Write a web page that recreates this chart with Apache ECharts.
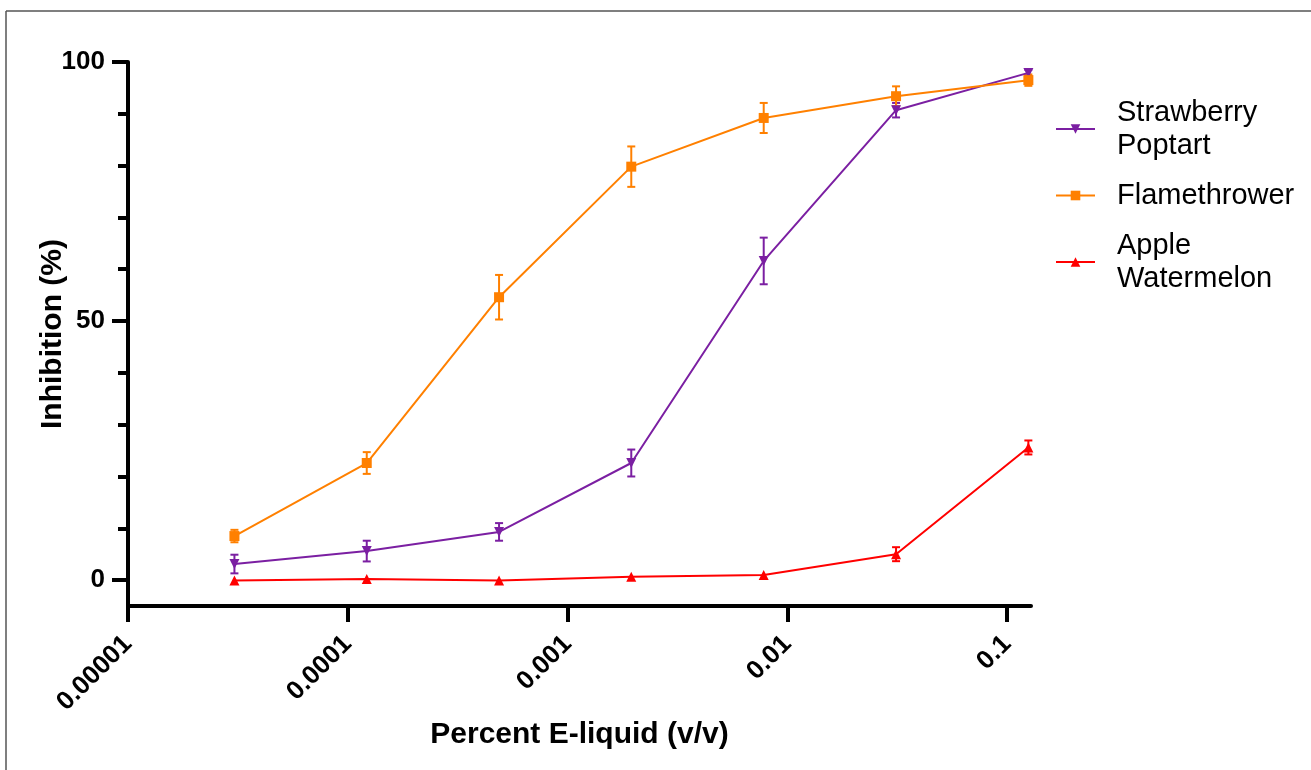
<!DOCTYPE html>
<html>
<head>
<meta charset="utf-8">
<title>Inhibition vs Percent E-liquid</title>
<script src="https://cdn.jsdelivr.net/npm/echarts@6/dist/echarts.min.js"></script>
<style>
    html, body { margin: 0; padding: 0; background: #fff; }
    #chart { width: 1311px; height: 770px; }
</style>
</head>
<body>
<div id="chart"></div>
<script>
// 浓度 (4倍稀释)
let concentrations = [0.0000305, 0.000122, 0.000488, 0.00195, 0.00781, 0.03125, 0.125];

// 各口味均值与误差
let strawberryMean = [3.1, 5.6, 9.3, 22.6, 61.6, 90.7, 97.9];
let strawberryErr  = [1.8, 2.0, 1.7, 2.6, 4.5, 1.4, 0.6];
let flameMean = [8.5, 22.6, 54.6, 79.8, 89.2, 93.4, 96.5];
let flameErr  = [1.2, 2.1, 4.3, 3.9, 2.9, 1.9, 1.1];
let appleMean = [-0.1, 0.2, -0.1, 0.65, 1.0, 5.0, 25.6];
let appleErr  = [0, 0, 0, 0, 0, 1.35, 1.35];

// 坐标轴刻度
let xTicks = [0.00001, 0.0001, 0.001, 0.01, 0.1];
let xTickLabels = ['0.00001', '0.0001', '0.001', '0.01', '0.1'];
let yMajorTicks = [0, 50, 100];
let yMinorTicks = [10, 20, 30, 40, 60, 70, 80, 90];

let font = 'Liberation Sans, Arial, sans-serif';

let pairs = (mean) => concentrations.map((x, i) => [x, mean[i]]);
let triples = (mean, err) => concentrations.map((x, i) => [x, mean[i], err[i]]);

let xLabel = v => {
    let i = xTicks.findIndex(t => Math.abs(Math.log10(t) - Math.log10(v)) < 1e-6);
    return i >= 0 ? xTickLabels[i] : '';
};

// 误差线
let errorBar = (name, color, mean, err) => ({
    type: 'custom',
    name: name + '-err',
    z: 1,
    silent: true,
    data: triples(mean, err),
    encode: {x: 0, y: 1},
    renderItem: (params, api) => {
        let x = api.value(0), m = api.value(1), e = api.value(2);
        if (!e) return null;
        let top = api.coord([x, m + e]);
        let bot = api.coord([x, m - e]);
        let w = 4;
        let style = {stroke: color, lineWidth: 2};
        return {
            type: 'group',
            children: [
                {type: 'line', shape: {x1: top[0], y1: top[1], x2: bot[0], y2: bot[1]}, style: style},
                {type: 'line', shape: {x1: top[0] - w, y1: top[1], x2: top[0] + w, y2: top[1]}, style: style},
                {type: 'line', shape: {x1: bot[0] - w, y1: bot[1], x2: bot[0] + w, y2: bot[1]}, style: style}
            ]
        };
    }
});

let lineSeries = (name, color, mean, symbol, rotate) => ({
    type: 'line',
    name: name,
    z: 3,
    data: pairs(mean),
    symbol: symbol,
    symbolSize: 10,
    symbolRotate: rotate,
    showAllSymbol: true,
    lineStyle: {color: color, width: 2},
    itemStyle: {color: color},
    emphasis: {disabled: true}
});

let purple = '#7B1FA2', orange = '#FF8000', red = '#FF0000';

let axisText = {color: '#000', fontFamily: font, fontWeight: 'bold', fontSize: 26};
let nameText = {color: '#000', fontFamily: font, fontWeight: 'bold', fontSize: 30};

let option = {
    animation: false,
    backgroundColor: '#fff',
    grid: {left: 128, right: 280, top: 62, bottom: 164},
    legend: {
        orient: 'vertical',
        left: 1055,
        top: 96,
        padding: 0,
        itemGap: 17,
        itemWidth: 39,
        itemHeight: 12,
        data: ['Strawberry\nPoptart', 'Flamethrower', 'Apple\nWatermelon'],
        textStyle: {color: '#000', fontFamily: font, fontSize: 29, lineHeight: 33, padding: [0, 0, 0, 17]}
    },
    xAxis: {
        type: 'log',
        logBase: 10,
        min: 0.00001,
        max: 0.1285,
        name: 'Percent E-liquid (v/v)',
        nameLocation: 'middle',
        nameGap: 114,
        nameMoveOverlap: false,
        nameTextStyle: nameText,
        axisLine: {onZero: false, lineStyle: {color: '#000', width: 4}},
        axisTick: {customValues: xTicks, length: 16, lineStyle: {color: '#000', width: 4}},
        axisLabel: Object.assign({customValues: xTicks, rotate: 45, margin: 34, formatter: xLabel}, axisText),
        splitLine: {show: false},
        minorTick: {show: false}
    },
    yAxis: [{
        type: 'value',
        min: -5,
        max: 100,
        name: 'Inhibition (%)',
        nameLocation: 'middle',
        nameGap: 60,
        nameMoveOverlap: false,
        nameTextStyle: nameText,
        axisLine: {show: true, lineStyle: {color: '#000', width: 4}},
        axisTick: {show: true, customValues: yMajorTicks, length: 16, lineStyle: {color: '#000', width: 4}},
        axisLabel: Object.assign({customValues: yMajorTicks, margin: 23}, axisText),
        splitLine: {show: false}
    }, {
        // 次刻度
        type: 'value',
        min: -5,
        max: 100,
        position: 'left',
        axisLine: {show: false},
        axisTick: {show: true, customValues: yMinorTicks, length: 10, lineStyle: {color: '#000', width: 4}},
        axisLabel: {show: false},
        splitLine: {show: false}
    }],
    graphic: [
        {type: 'line', shape: {x1: 6, y1: 11, x2: 1311, y2: 11}, style: {stroke: '#555', lineWidth: 1.5}},
        {type: 'line', shape: {x1: 6, y1: 11, x2: 6, y2: 770}, style: {stroke: '#555', lineWidth: 1.5}}
    ],
    series: [
        errorBar('Strawberry', purple, strawberryMean, strawberryErr),
        errorBar('Flamethrower', orange, flameMean, flameErr),
        errorBar('Apple', red, appleMean, appleErr),
        lineSeries('Strawberry\nPoptart', purple, strawberryMean, 'triangle', 180),
        lineSeries('Flamethrower', orange, flameMean, 'rect', 0),
        lineSeries('Apple\nWatermelon', red, appleMean, 'triangle', 0)
    ]
};

let chart = echarts.init(document.getElementById('chart'));
chart.setOption(option, true);
</script>
</body>
</html>
